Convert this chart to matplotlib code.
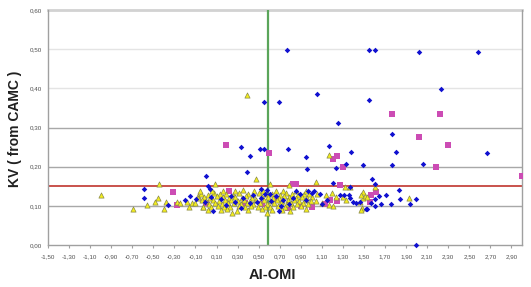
import matplotlib
matplotlib.use("Agg")
import matplotlib.pyplot as plt
from matplotlib.ticker import FixedLocator

plt.rcParams["font.family"] = ["Liberation Sans", "DejaVu Sans"]

# ---------------- data ----------------
blue_x = [0.765, 1.55, 1.60, 2.02, 2.58, 2.23, 1.05, 0.55, 0.69, 1.545, 1.25, 1.77, 1.805, 2.67,
          0.33, 0.51, 0.553, 0.778, 1.163, 0.415, 0.948, 1.375, 1.495, 1.767, 2.06, 1.33, 1.233,
          0.96, 0.386, 0.0, 1.58, 1.60, 1.83, 1.205, 1.37, 1.995, -0.59, -0.59, -0.365, -0.097,
          0.016, 0.036, 0.52, 0.58, 0.857, 0.97, 1.713, 1.647, 1.605, 1.84, 1.995, 1.666, 1.76,
          1.934, 1.605, 1.52,
          0.24, 0.28, 0.35, 0.52, 0.56, 0.61, 0.66, 0.73, 0.89, 0.945, -0.005, 0.05, 0.14, 0.415,
          0.48, 0.067, 0.33, 0.69, 0.71, 1.275, 1.31, 1.355, 1.37, 1.395, 1.42, 1.46, 1.53, 1.565,
          1.025, 1.005, 1.08, 1.10, 1.15, -0.20, 0.19, 0.62, 0.83, 0.79, 0.45, -0.15]
blue_y = [0.498, 0.498, 0.498, 0.493, 0.493, 0.399, 0.385, 0.365, 0.365, 0.370, 0.311, 0.284, 0.237, 0.234,
          0.251, 0.245, 0.244, 0.244, 0.252, 0.227, 0.225, 0.237, 0.204, 0.204, 0.208, 0.207, 0.197,
          0.195, 0.186, 0.176, 0.168, 0.157, 0.140, 0.159, 0.149, 0.000, 0.144, 0.119, 0.103, 0.117,
          0.151, 0.143, 0.144, 0.141, 0.138, 0.138, 0.128, 0.126, 0.118, 0.117, 0.118, 0.104, 0.104,
          0.104, 0.100, 0.093,
          0.125, 0.109, 0.121, 0.120, 0.129, 0.130, 0.126, 0.115, 0.129, 0.115, 0.109, 0.122, 0.118, 0.106,
          0.110, 0.088, 0.095, 0.087, 0.100, 0.128, 0.128, 0.128, 0.120, 0.110, 0.108, 0.110, 0.092, 0.106,
          0.137, 0.133, 0.129, 0.105, 0.115, 0.115, 0.102, 0.112, 0.120, 0.105, 0.128, 0.125]

mag_x = [0.194, 0.595, 1.21, 1.246, 1.30, 1.77, 2.22, 2.02, 2.30, 2.18, 3.0, -0.315, -0.275,
         0.825, 0.85, 1.275, 1.57, 1.56, 0.22, 0.37, 0.78, 0.535, 1.01, 1.125, 1.24, 1.18,
         1.61, 0.0, 0.68, 0.90]
mag_y = [0.255, 0.235, 0.219, 0.226, 0.198, 0.334, 0.334, 0.276, 0.255, 0.198, 0.177, 0.135, 0.103,
         0.156, 0.156, 0.154, 0.128, 0.110, 0.137, 0.106, 0.095, 0.105, 0.098, 0.105, 0.112, 0.115,
         0.136, 0.108, 0.118, 0.100]

yel_x = [-1.0, -0.69, -0.56, -0.48, -0.455, -0.448, -0.38, -0.40, -0.275, -0.25, -0.176, -0.16,
         -0.13, -0.075, 0.386, 1.17, 0.478, 0.086, 0.61, 0.79, 1.047, 1.32, 1.37, 1.60, 1.93,
         1.48, 1.49, 1.51, 0.25, 0.575, -0.03,
         1.01, 1.05, 1.14, 1.20, 1.23, 1.04, 1.10, 1.17, 1.30, 1.33, 1.46, 1.49, 1.47, 1.53, 1.47, 1.21,
         # dense band rows
         -0.05, 0.02, 0.08, 0.13, 0.19, 0.26, 0.31, 0.40, 0.45, 0.50, 0.57, 0.63, 0.70, 0.76, 0.82, 0.87, 0.93, 0.98,
         -0.08, -0.02, 0.04, 0.10, 0.16, 0.22, 0.28, 0.34, 0.38, 0.44, 0.53, 0.59, 0.64, 0.69, 0.74, 0.79, 0.85, 0.91, 0.96,
         -0.04, 0.00, 0.07, 0.12, 0.18, 0.24, 0.30, 0.36, 0.42, 0.47, 0.55, 0.62, 0.67, 0.72, 0.78, 0.84, 0.88, 0.94, 1.00,
         -0.10, 0.03, 0.09, 0.15, 0.21, 0.27, 0.33, 0.39, 0.45, 0.51, 0.58, 0.65, 0.71, 0.77, 0.81, 0.86, 0.92, 0.97,
         -0.03, 0.05, 0.11, 0.17, 0.23, 0.31, 0.37, 0.43, 0.49, 0.56, 0.61, 0.68, 0.75, 0.83, 0.90,
         0.02, 0.14, 0.20, 0.29, 0.40, 0.53, 0.63, 0.72, 0.80, 0.95,
         -0.06, 0.06, 0.16, 0.28, 0.35, 0.46, 0.54, 0.66, 0.73, 0.85, 0.95]
yel_y = [0.127, 0.092, 0.103, 0.111, 0.119, 0.157, 0.111, 0.092, 0.109, 0.106, 0.109, 0.096,
         0.106, 0.125, 0.384, 0.229, 0.168, 0.157, 0.157, 0.153, 0.162, 0.149, 0.147, 0.148, 0.121,
         0.094, 0.120, 0.124, 0.081, 0.082, 0.096,
         0.123, 0.130, 0.128, 0.133, 0.123, 0.112, 0.107, 0.102, 0.123, 0.115, 0.111, 0.136, 0.089, 0.123, 0.128, 0.100,
         0.131, 0.128, 0.133, 0.129, 0.131, 0.127, 0.132, 0.130, 0.128, 0.133, 0.129, 0.131, 0.127, 0.132, 0.130, 0.128, 0.131, 0.129,
         0.121, 0.123, 0.120, 0.124, 0.122, 0.119, 0.123, 0.121, 0.124, 0.120, 0.122, 0.123, 0.119, 0.121, 0.124, 0.122, 0.120, 0.123, 0.121,
         0.114, 0.112, 0.115, 0.113, 0.116, 0.114, 0.112, 0.115, 0.113, 0.116, 0.114, 0.112, 0.115, 0.113, 0.114, 0.116, 0.112, 0.115, 0.113,
         0.106, 0.105, 0.107, 0.104, 0.106, 0.108, 0.105, 0.107, 0.104, 0.106, 0.105, 0.107, 0.106, 0.104, 0.107, 0.105, 0.106, 0.104,
         0.098, 0.097, 0.099, 0.096, 0.098, 0.100, 0.097, 0.099, 0.096, 0.098, 0.097, 0.099, 0.098, 0.096, 0.099,
         0.090, 0.089, 0.091, 0.088, 0.090, 0.091, 0.089, 0.090, 0.088, 0.091,
         0.138, 0.139, 0.137, 0.138, 0.140, 0.137, 0.139, 0.138, 0.137, 0.139, 0.138]

x_ticks = [-1.5, -1.3, -1.1, -0.9, -0.7, -0.5, -0.3, -0.1, 0.1, 0.3, 0.5, 0.7, 0.9,
           1.1, 1.3, 1.5, 1.7, 1.9, 2.1, 2.3, 2.5, 2.7, 2.9]
y_ticks = [0.0, 0.1, 0.2, 0.3, 0.4, 0.5, 0.6]
threshold_kv = 0.15
threshold_ai = 0.59

# ---------------- figure ----------------
fig = plt.figure(figsize=(5.31, 2.87), dpi=100)
ax = fig.add_axes([48 / 531, 1 - 245 / 287, (522 - 48) / 531, (245 - 10) / 287])
ax.set_xlim(-1.5, 3.0)
ax.set_ylim(0, 0.6)

# gridlines
for y in y_ticks[1:4]:
    ax.axhline(y, color="#a8a8a8", lw=1.0, zorder=0)
for y in y_ticks[4:6]:
    ax.axhline(y, color="#e4e4e4", lw=1.0, zorder=0)
ax.axhline(0.6, color="#d2d2d2", lw=2.0, zorder=0, clip_on=False)

# threshold lines
ax.axvline(threshold_ai, color="#5aa55a", lw=1.6, zorder=1)
ax.axhline(threshold_kv, color="#c0352d", lw=1.2, zorder=1)

# data series
ax.scatter(mag_x, mag_y, marker="s", s=14, color="#cc4cb4", linewidths=0, zorder=3)
ax.scatter(yel_x, yel_y, marker="^", s=14, facecolor="#f4ee1c", edgecolor="#8a8a48",
           linewidths=0.5, zorder=4, clip_on=False)
ax.scatter(blue_x, blue_y, marker="D", s=8, color="#1010d0", linewidths=0, zorder=5, clip_on=False)

# spines
for side in ["left", "bottom", "right"]:
    ax.spines[side].set_color("#a0a0a0")
    ax.spines[side].set_linewidth(1.0)
ax.spines["top"].set_visible(False)

# ticks
ax.xaxis.set_major_locator(FixedLocator(x_ticks))
ax.yaxis.set_major_locator(FixedLocator(y_ticks))
ax.set_xticklabels([f"{v:.2f}".replace(".", ",") for v in x_ticks], fontsize=4.5, color="#505050")
ax.set_yticklabels([f"{v:.2f}".replace(".", ",") for v in y_ticks], fontsize=4.5, color="#505050")
ax.tick_params(axis="x", length=2, color="#a0a0a0", pad=5)
ax.tick_params(axis="y", length=0, pad=4)

fig.text(272 / 531, 1 - 275 / 287, "AI-OMI", fontsize=10.5, fontweight="bold",
         ha="center", va="center", color="#202020")
fig.text(15 / 531, 1 - 129 / 287, "KV ( from CAMC )", fontsize=10, fontweight="bold",
         rotation=90, ha="center", va="center", color="#202020")

fig.savefig("out.png", dpi=100)
